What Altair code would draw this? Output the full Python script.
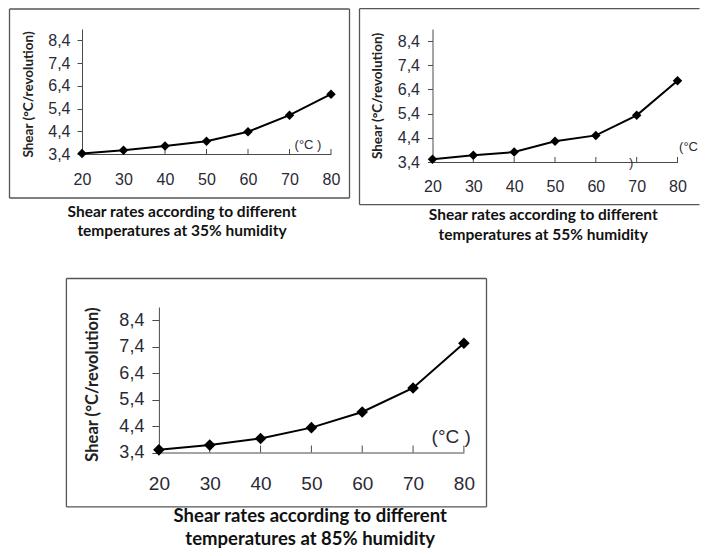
import altair as alt
import pandas as pd

# ---- data ----
temps = [20, 30, 40, 50, 60, 70, 80]
shear_35 = [3.42, 3.56, 3.75, 3.96, 4.38, 5.11, 6.03]
shear_55 = [3.51, 3.68, 3.81, 4.26, 4.50, 5.33, 6.76]
shear_85 = [3.50, 3.68, 3.93, 4.34, 4.93, 5.84, 7.53]
y_ticks = [3.4, 4.4, 5.4, 6.4, 7.4, 8.4]
y_title = "Shear (°C/revolution)"
captions_35 = ["Shear rates according to different", "temperatures at 35% humidity"]
captions_55 = ["Shear rates according to different", "temperatures at 55% humidity"]
captions_85 = ["Shear rates according to different", "temperatures at 85% humidity"]

AXIS_COLOR = "#4a4a4a"
LABEL_COLOR = "#2a2a36"
FRAME_COLOR = "#555555"
LABEL_FONT = "Liberation Sans"
TITLE_FONT = "Lato"

one = alt.Data(values=[{}])


def vtext(txt, x, y, **kw):
    return alt.Chart(one).mark_text(text=txt, align="center", baseline="middle", **kw).encode(
        x=alt.value(x), y=alt.value(y)
    )


def vrule(x1, x2, y1, y2):
    return alt.Chart(one).mark_rule(color=FRAME_COLOR, strokeWidth=1.3).encode(
        x=alt.value(x1), x2=alt.value(x2), y=alt.value(y1), y2=alt.value(y2)
    )


def panel(values, W, H, s):
    df = pd.DataFrame({"t": temps, "s": values})
    base = alt.Chart(df)
    x = alt.X(
        "t:Q",
        scale=alt.Scale(domain=[20, 80], nice=False, zero=False),
        axis=alt.Axis(
            values=temps, grid=False, ticks=False, tickSize=0,
            domainColor=AXIS_COLOR, domainWidth=1,
            labelFont=LABEL_FONT, labelFontSize=s["xfs"], labelColor=LABEL_COLOR,
            labelPadding=s["xpad"], labelFlush=False, title=None,
        ),
    )
    y = alt.Y(
        "s:Q",
        scale=alt.Scale(domain=[3.4, 8.9], nice=False, zero=False),
        axis=alt.Axis(
            values=y_ticks, grid=False, tickSize=s["ytick"], tickColor=AXIS_COLOR,
            domainColor=AXIS_COLOR, domainWidth=1,
            labelFont=LABEL_FONT, labelFontSize=s["yfs"], labelColor=LABEL_COLOR,
            labelPadding=s["ypad"], labelFlush=False,
            labelExpr="replace(format(datum.value, '.1f'), '.', ',')",
            title=None,
        ),
    )
    layers = []
    if "by" in s:
        layers.append(
            alt.Chart(one).mark_rect(fill="white", fillOpacity=0).encode(
                x=alt.value(s["fx"][0]), x2=alt.value(s["fx"][1]),
                y=alt.value(s["by"][0]), y2=alt.value(s["by"][1]),
            )
        )
    fx0, fx1 = s["fx"]
    fy0, fy1 = s["fy"]
    layers += [vrule(fx0, fx1, fy0, fy0), vrule(fx0, fx1, fy1, fy1), vrule(fx0, fx0, fy0, fy1)]
    if s.get("right_side", True):
        layers.append(vrule(fx1, fx1, fy0, fy1))
    ticks = base.mark_rule(color=AXIS_COLOR, strokeWidth=1).encode(
        x=alt.X("t:Q"), y=alt.value(H - s["xtick"]), y2=alt.value(H)
    )
    line = base.mark_line(color="black", strokeWidth=2).encode(x=x, y=y)
    pts = base.mark_point(
        shape="diamond", filled=True, color="black", opacity=1, size=s["msize"]
    ).encode(x=x, y=y)
    layers += [ticks, line, pts]
    # y axis title
    layers.append(
        vtext(y_title, s["ytx"], s["yty"], angle=270, font=TITLE_FONT,
              fontWeight="bold", fontSize=s["ytfs"], color="#222222")
    )
    # unit label near the x axis end
    layers.append(
        vtext(s["xtitle"], s["xtx"], s["xty"], font=LABEL_FONT,
              fontSize=s["xtfs"], color=LABEL_COLOR)
    )
    for txt, tx, ty, fs in s.get("extra", []):
        layers.append(vtext(txt, tx, ty, font=LABEL_FONT, fontSize=fs, color=LABEL_COLOR))
    cap1, cap2 = s["captions"]
    for txt, yy in ((cap1, s["cy"][0]), (cap2, s["cy"][1])):
        layers.append(
            vtext(txt, s["cx"], yy, font=TITLE_FONT, fontWeight="bold",
                  fontSize=s["cfs"], color="#111111")
        )
    return alt.layer(*layers).properties(width=W, height=H)


chart_a = panel(
    shear_35, 249, 125,
    dict(
        xfs=16, xpad=17, xtitle="(°C )", xtx=226, xty=116, xtfs=13,
        yfs=16, ytick=5, ypad=7, ytx=-53, yty=65.5, ytfs=13.5,
        by=(-20, 248),
        fx=(-72.5, 267.5), fy=(-20, 169),
        xtick=5, msize=90, captions=captions_35, cfs=15.5,
        cx=100, cy=(183, 202),
    ),
)

chart_b = panel(
    shear_55, 245, 133,
    dict(
        xfs=16, xpad=16.5, xtitle="(°C", xtx=256, xty=117.7, xtfs=13,
        yfs=16, ytick=5, ypad=8, ytx=-54.6, yty=67, ytfs=13.5,
        fx=(-73, 267), fy=(-20.3, 175.7), right_side=False,
        xtick=5, msize=90, captions=captions_55, cfs=15.5,
        cx=110.7, cy=(186, 206),
        extra=[(")", 198.7, 134.4, 13)],
    ),
)

chart_c = panel(
    shear_85, 305, 145.5,
    dict(
        xfs=19, xpad=21.5, xtitle="(°C )", xtx=292.3, xty=129.5, xtfs=19,
        yfs=18, ytick=7, ypad=8, ytx=-65.7, yty=77.5, ytfs=16.5,
        fx=(-92.5, 327.6), fy=(-28.5, 199.8),
        xtick=7, msize=135, captions=captions_85, cfs=18.5,
        cx=151.3, cy=(209, 232),
    ),
)

spacer = alt.Chart(one).mark_rect(fill="white", fillOpacity=0).encode(
    x=alt.value(0), x2=alt.value(1), y=alt.value(0), y2=alt.value(1)
).properties(width=1, height=1)

row1 = alt.hconcat(chart_a, chart_b, spacing=7.5)
row2 = alt.hconcat(spacer, chart_c, spacing=-18.1)
chart = (
    alt.vconcat(row1, row2, spacing=0)
    .properties(padding={"left": 0, "top": 0, "right": 0, "bottom": 0})
    .configure_view(stroke=None)
)

chart.save("out.html", embed_options={"renderer": "svg", "actions": False})
